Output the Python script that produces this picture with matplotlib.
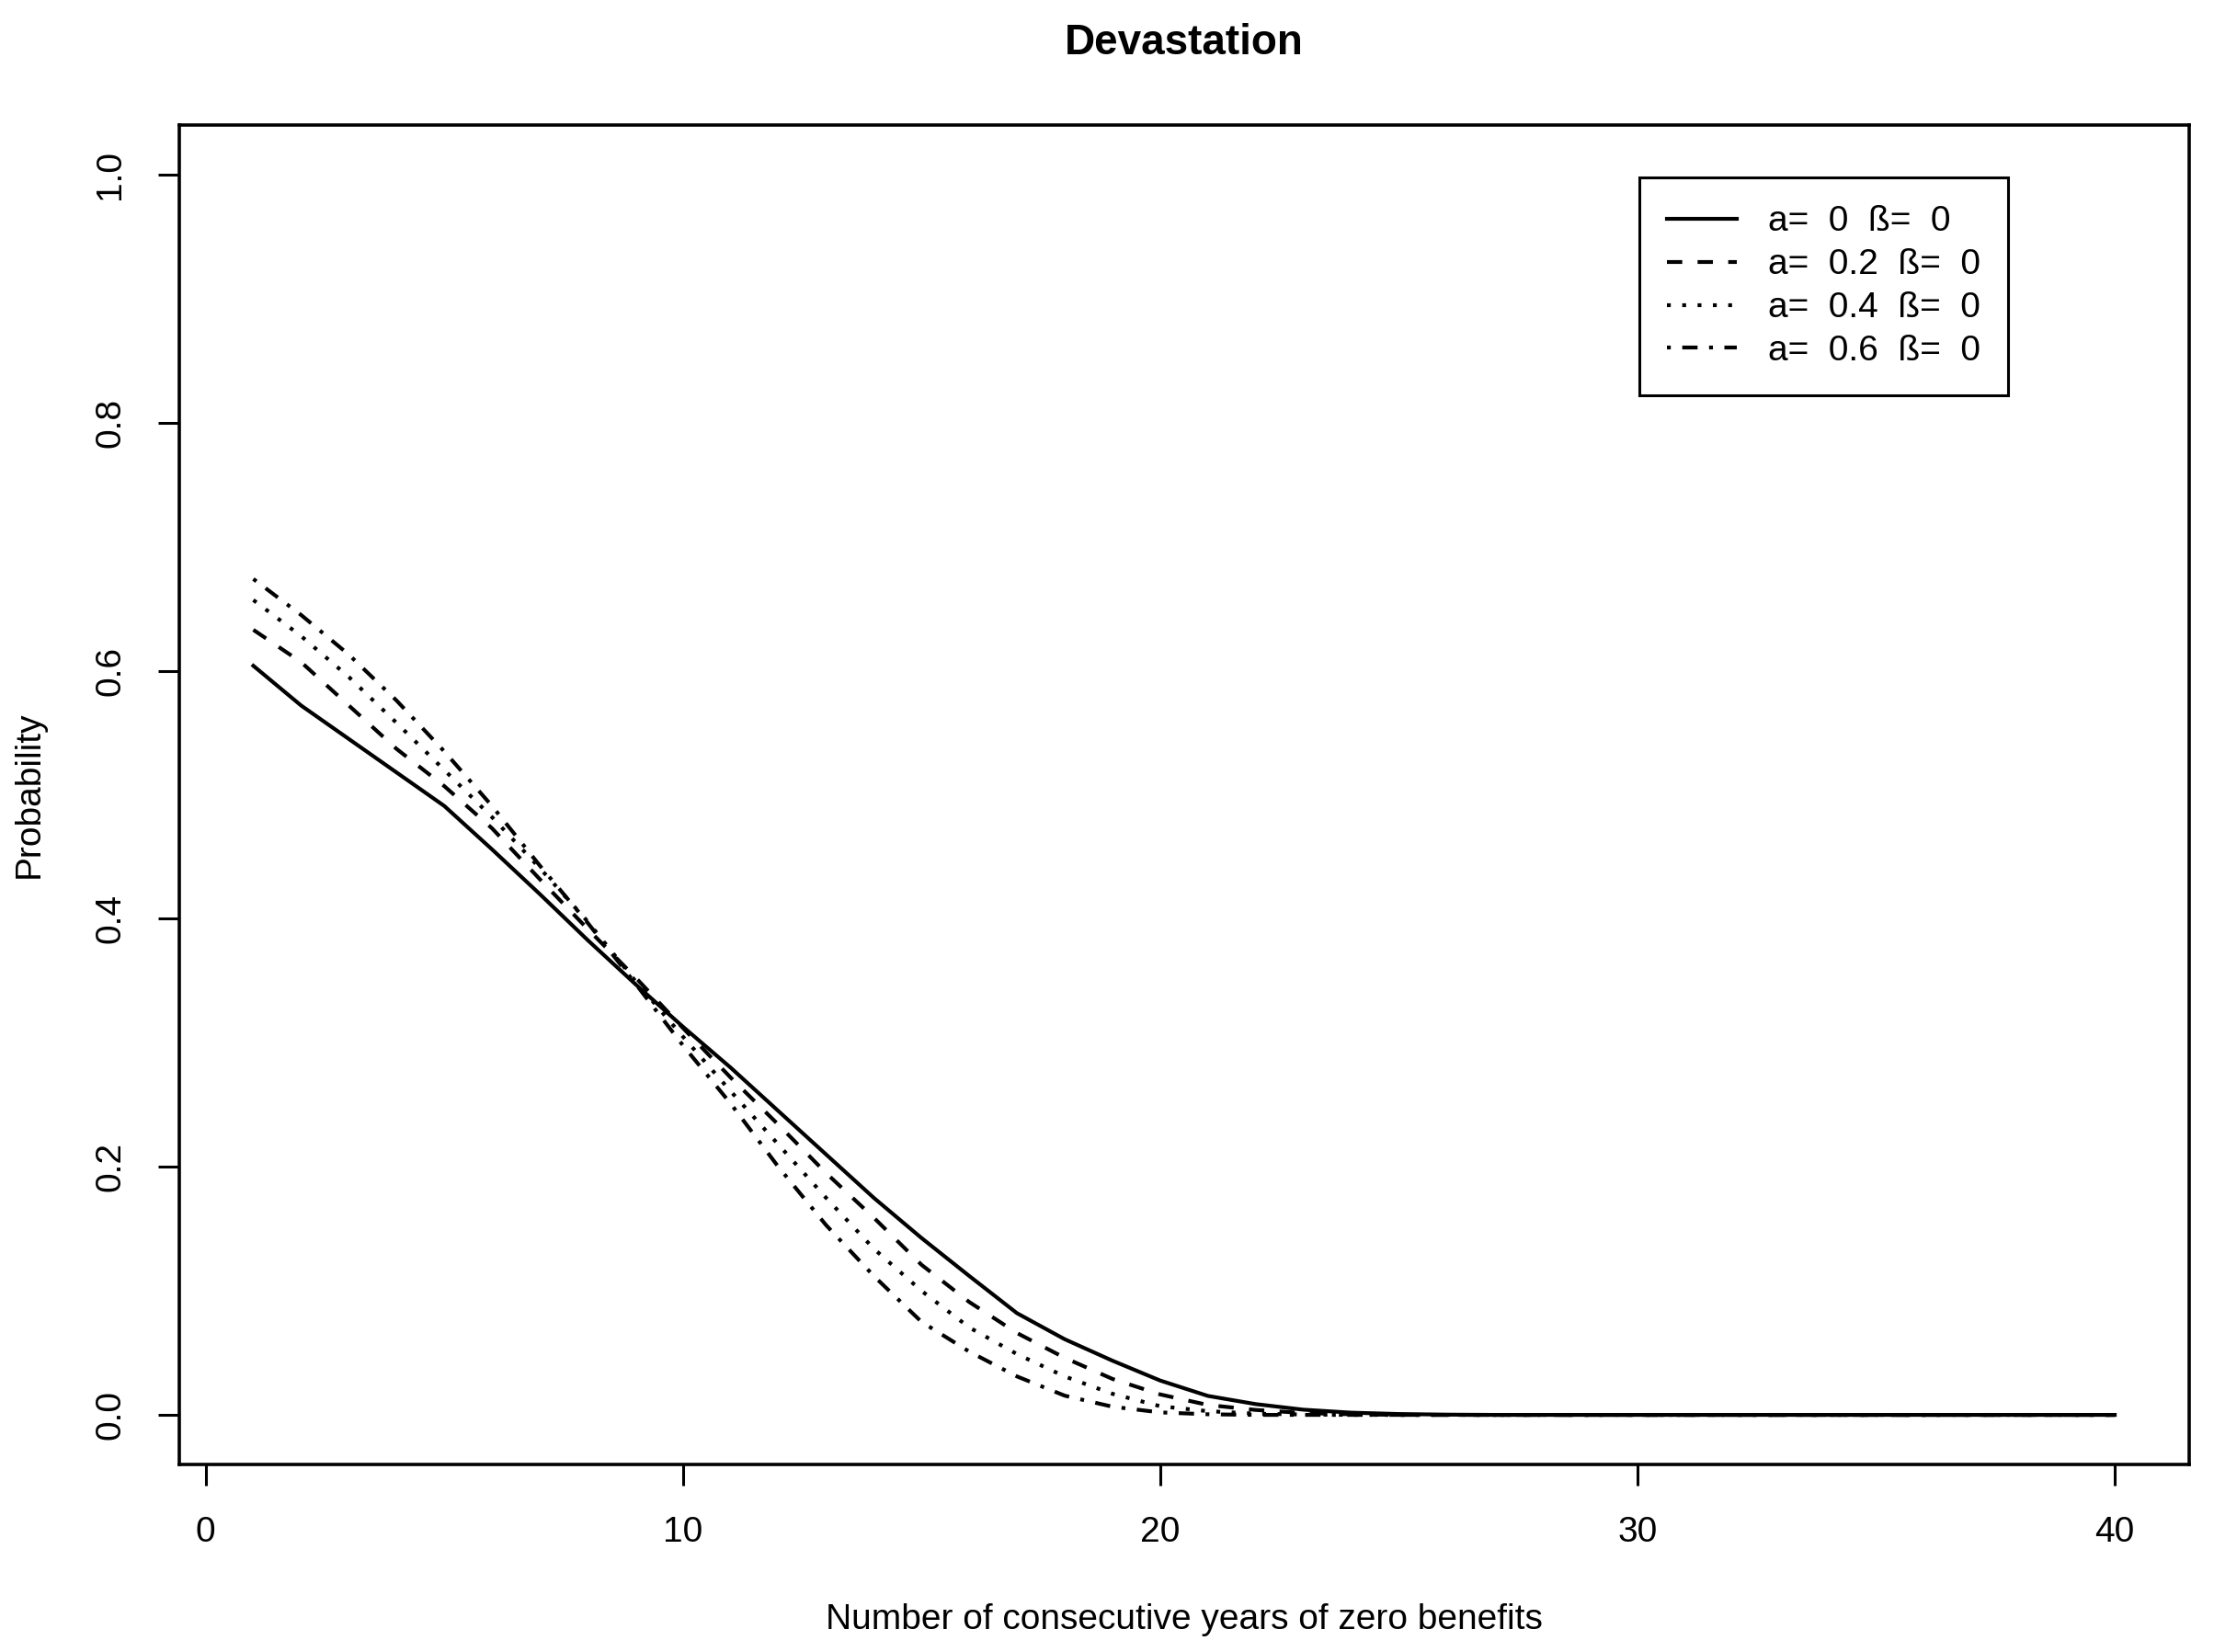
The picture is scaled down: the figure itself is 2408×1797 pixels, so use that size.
import numpy as np
import matplotlib.pyplot as plt

plt.rcParams['font.family'] = ['Liberation Sans', 'DejaVu Sans']

# years of zero benefits
years = np.arange(1, 41)

# probabilities (tail is zero after ~26 years)
p_a0 = [0.604, 0.572, 0.545, 0.518, 0.491, 0.456, 0.420, 0.383, 0.3475, 0.313,
        0.280, 0.245, 0.210, 0.175, 0.1426, 0.112, 0.082, 0.061, 0.0437, 0.0277,
        0.0153, 0.0087, 0.0042, 0.0018, 0.0007, 0.0002] + [0.0] * 14
p_a02 = [0.633, 0.607, 0.572, 0.537, 0.507, 0.473, 0.432, 0.392, 0.353, 0.312,
         0.272, 0.234, 0.195, 0.159, 0.121, 0.091, 0.066, 0.046, 0.029, 0.0165,
         0.008, 0.004, 0.0015, 0.0005] + [0.0] * 16
p_a04 = [0.657, 0.628, 0.595, 0.558, 0.520, 0.482, 0.441, 0.398, 0.350, 0.305,
         0.261, 0.218, 0.175, 0.134, 0.100, 0.0705, 0.049, 0.031, 0.017, 0.007,
         0.003, 0.001, 0.0003] + [0.0] * 17
p_a06 = [0.674, 0.645, 0.613, 0.576, 0.535, 0.491, 0.443, 0.397, 0.348, 0.298,
         0.251, 0.200, 0.153, 0.112, 0.075, 0.051, 0.031, 0.0155, 0.0066, 0.002,
         0.0005] + [0.0] * 19

labels = ["a=  0  ß=  0", "a=  0.2  ß=  0", "a=  0.4  ß=  0", "a=  0.6  ß=  0"]
styles = ['-', (0, (4, 4)), (0, (1, 3)), (0, (1, 3, 4, 3))]

fig = plt.figure(figsize=(12.04, 8.985), dpi=200)
ax = fig.add_axes([0.0808, 0.1135, 0.908, 0.8108])

for vals, lab, ls in zip([p_a0, p_a02, p_a04, p_a06], labels, styles):
    ax.plot(years, vals, color='black', lw=1.5, linestyle=ls, label=lab)

ax.set_xlim(-0.56, 41.56)
ax.set_ylim(-0.04, 1.04)
ax.set_xticks([0, 10, 20, 30, 40])
ax.set_yticks([0.0, 0.2, 0.4, 0.6, 0.8, 1.0])
ax.set_yticklabels(['0.0', '0.2', '0.4', '0.6', '0.8', '1.0'], rotation=90, va='center')

for sp in ax.spines.values():
    sp.set_linewidth(1.3)
ax.tick_params(direction='out', length=8.3, width=1.1, labelsize=14, pad=12)

ax.set_title('Devastation', fontsize=16.5, fontweight='bold', y=1.061, va='center', pad=0)
ax.set_xlabel('Number of consecutive years of zero benefits', fontsize=14, va='center')
ax.xaxis.set_label_coords(0.5, -0.1162)
ax.set_ylabel('Probability', fontsize=14, va='center')
ax.yaxis.set_label_coords(-0.0743, 0.5)

leg = ax.legend(loc='upper left', bbox_to_anchor=(0.7265, 0.9609), borderaxespad=0,
                fontsize=14, frameon=True, fancybox=False, framealpha=1,
                edgecolor='black', handlelength=1.95, handletextpad=0.87,
                labelspacing=0.28, borderpad=0.78)
leg.get_frame().set_linewidth(1.1)

fig.savefig('out.png', dpi=200)
